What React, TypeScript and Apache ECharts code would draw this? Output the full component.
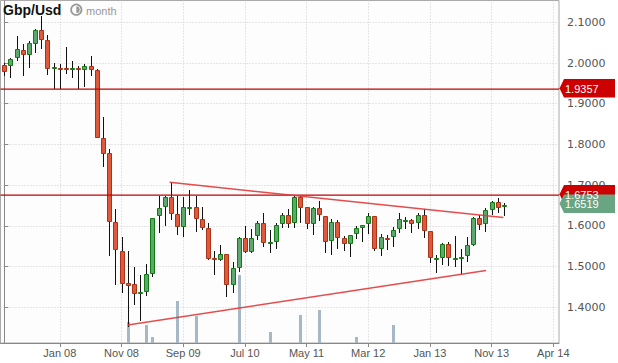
import React, { useEffect, useRef } from 'react';
import * as echarts from 'echarts';

// Monthly GBP/USD candles, May 2007 .. Feb 2014 (index 0 .. 81)
const opens = [
  1.994, 1.994, 2.014, 2.031, 2.021, 2.050, 2.081, 2.056, 1.988, 1.989,
  1.987, 1.987, 1.989, 1.986, 1.993, 1.983, 1.816, 1.778, 1.609, 1.538,
  1.459, 1.457, 1.434, 1.439, 1.483, 1.626, 1.649, 1.670, 1.628, 1.600,
  1.644, 1.646, 1.616, 1.594, 1.522, 1.519, 1.530, 1.458, 1.499, 1.569,
  1.538, 1.577, 1.606, 1.558, 1.562, 1.606, 1.626, 1.609, 1.670, 1.646,
  1.608, 1.643, 1.624, 1.565, 1.609, 1.569, 1.557, 1.582, 1.596, 1.606,
  1.624, 1.545, 1.571, 1.575, 1.594, 1.612, 1.614, 1.609, 1.626, 1.587,
  1.519, 1.523, 1.555, 1.520, 1.521, 1.528, 1.555, 1.619, 1.608, 1.642,
  1.658, 1.648,
];
const highs = [
  2.001, 2.013, 2.066, 2.047, 2.055, 2.084, 2.116, 2.070, 1.999, 1.998,
  2.039, 2.004, 1.993, 1.998, 2.017, 1.985, 1.867, 1.788, 1.641, 1.572,
  1.538, 1.500, 1.479, 1.506, 1.620, 1.673, 1.673, 1.706, 1.673, 1.672,
  1.688, 1.673, 1.646, 1.608, 1.539, 1.552, 1.531, 1.512, 1.572, 1.600,
  1.593, 1.613, 1.632, 1.590, 1.608, 1.631, 1.641, 1.673, 1.673, 1.647,
  1.647, 1.660, 1.625, 1.618, 1.614, 1.575, 1.578, 1.600, 1.603, 1.632,
  1.625, 1.580, 1.578, 1.598, 1.632, 1.621, 1.616, 1.631, 1.641, 1.588,
  1.529, 1.559, 1.560, 1.575, 1.544, 1.572, 1.621, 1.627, 1.645, 1.660,
  1.668, 1.656,
];
const lows = [
  1.968, 1.963, 2.006, 1.967, 1.988, 2.025, 2.035, 1.971, 1.935, 1.935,
  1.973, 1.962, 1.935, 1.942, 1.967, 1.817, 1.745, 1.526, 1.455, 1.436,
  1.352, 1.406, 1.367, 1.428, 1.475, 1.582, 1.600, 1.614, 1.578, 1.572,
  1.627, 1.584, 1.590, 1.516, 1.479, 1.514, 1.424, 1.436, 1.487, 1.533,
  1.533, 1.565, 1.549, 1.534, 1.542, 1.595, 1.595, 1.595, 1.608, 1.593,
  1.578, 1.613, 1.534, 1.529, 1.544, 1.538, 1.524, 1.567, 1.560, 1.580,
  1.537, 1.527, 1.541, 1.549, 1.583, 1.593, 1.583, 1.592, 1.569, 1.508,
  1.485, 1.503, 1.501, 1.500, 1.482, 1.511, 1.551, 1.590, 1.586, 1.627,
  1.631, 1.624,
];
const closes = [
  1.980, 2.009, 2.034, 2.021, 2.048, 2.081, 2.060, 1.989, 1.990, 1.987,
  1.986, 1.989, 1.987, 1.993, 1.985, 1.818, 1.780, 1.611, 1.542, 1.460,
  1.455, 1.434, 1.437, 1.481, 1.619, 1.645, 1.670, 1.631, 1.600, 1.646,
  1.646, 1.619, 1.598, 1.522, 1.519, 1.530, 1.456, 1.496, 1.569, 1.538,
  1.571, 1.606, 1.561, 1.561, 1.601, 1.626, 1.608, 1.672, 1.647, 1.608,
  1.643, 1.629, 1.562, 1.609, 1.573, 1.557, 1.577, 1.594, 1.601, 1.624,
  1.545, 1.572, 1.568, 1.590, 1.616, 1.614, 1.606, 1.626, 1.590, 1.523,
  1.521, 1.555, 1.524, 1.522, 1.523, 1.552, 1.619, 1.605, 1.638, 1.658,
  1.647, 1.6519,
];
// [candle index, volume (relative units)]
const volumeBars = [
  [20, 21], [23, 18], [24, 6], [28, 42], [31, 27], [38, 68],
  [43, 11], [48, 28], [51, 33], [57, 6], [63, 18],
];
const xTickIdx = [9, 19, 29, 39, 49, 59, 69, 79, 89];
const xTickLabels = ['Jan 08', 'Nov 08', 'Sep 09', 'Jul 10', 'May 11', 'Mar 12', 'Jan 13', 'Nov 13', 'Apr 14'];
const yTicks = [1.4, 1.5, 1.6, 1.7, 1.8, 1.9, 2.0, 2.1];
const levelLines = [1.9357, 1.6753];
const lastPrice = 1.6519;
const upperTrend = [[26.8, 1.707], [80.9, 1.6205]];
const lowerTrend = [[20, 1.3565], [78.1, 1.4903]];

const X_MIN = -0.616;
const X_MAX = 89.924;
const Y_MIN = 1.3122;
const Y_MAX = 2.1536;
const VOL_MAX = 342.5;

const UP_FILL = '#5da86c';
const UP_BORDER = '#127a12';
const DOWN_FILL = '#e0593d';
const DOWN_BORDER = '#a83418';

export default function App() {
  const ref = useRef<HTMLDivElement>(null);
  useEffect(() => {
    if (!ref.current) return;
    document.body.style.margin = '0';
    const chart = echarts.init(ref.current, null, { renderer: 'svg' });
    const candleData = opens.map((o, i) => [i, o, closes[i], lows[i], highs[i]]);
    const baseGraphic: any[] = [
      {
        type: 'text', x: 3, y: 10, z: 100,
        style: { text: 'Gbp/Usd', font: 'bold 14px "Liberation Sans", Arial', fill: '#111', verticalAlign: 'middle' },
      },
      { type: 'circle', z: 100, shape: { cx: 76.3, cy: 9.7, r: 5.2 }, style: { fill: '#fff', stroke: '#9a9a9a', lineWidth: 1.8 } },
      { type: 'sector', z: 100, shape: { cx: 76.3, cy: 9.7, r0: 0, r: 3.4, startAngle: -Math.PI / 2, endAngle: Math.PI / 2 }, style: { fill: '#9a9a9a' } },
      {
        type: 'text', x: 86, y: 11, z: 100,
        style: { text: 'month', font: '11px "Liberation Sans", Arial', fill: '#999', verticalAlign: 'middle' },
      },
    ];
    const option: any = {
      animation: false,
      backgroundColor: '#fff',
      grid: { left: 0.5, top: 0.5, right: 59, bottom: 20, show: true, borderColor: '#aaa', borderWidth: 1, backgroundColor: '#fdfdfd' },
      xAxis: {
        type: 'value', min: X_MIN, max: X_MAX,
        axisLine: { show: true, onZero: false, lineStyle: { color: '#888' } },
        axisTick: { show: true, customValues: xTickIdx, length: 4, lineStyle: { color: '#888' } },
        axisLabel: {
          customValues: xTickIdx, margin: 4, color: '#555', fontSize: 11, fontFamily: '"Liberation Sans", Arial',
          formatter: (v: number) => { const k = xTickIdx.indexOf(Math.round(v)); return k >= 0 ? xTickLabels[k] : ''; },
        },
        splitLine: { show: true, lineStyle: { color: '#cccccc', type: [1, 2] } },
      },
      yAxis: [
        {
          type: 'value', position: 'right', min: Y_MIN, max: Y_MAX,
          axisLine: { show: true, lineStyle: { color: '#888' } },
          axisTick: { show: true, customValues: yTicks, length: 4, lineStyle: { color: '#888' } },
          axisLabel: {
            customValues: yTicks, margin: 8, color: '#555', fontSize: 11, fontFamily: '"DejaVu Sans", Verdana',
            formatter: (v: number) => v.toFixed(4),
          },
          splitLine: { show: true, lineStyle: { color: '#cccccc', type: [1, 2] } },
        },
        { type: 'value', min: 0, max: VOL_MAX, show: false },
      ],
      series: [
        {
          type: 'custom', yAxisIndex: 1, z: 1, data: volumeBars,
          renderItem: (_p: any, api: any) => {
            const i = api.value(0), v = api.value(1);
            const p = api.coord([i, v]);
            const p0 = api.coord([i, 0]);
            const cx = Math.round(p[0]);
            return { type: 'rect', shape: { x: cx - 1, y: p[1], width: 3, height: p0[1] - p[1] }, style: { fill: '#a6b7c5' } };
          },
        },
        {
          type: 'custom', z: 2, data: candleData,
          renderItem: (_p: any, api: any) => {
            const i = api.value(0), o = api.value(1), c = api.value(2), l = api.value(3), h = api.value(4);
            const pO = api.coord([i, o]), pC = api.coord([i, c]), pL = api.coord([i, l]), pH = api.coord([i, h]);
            const cx = Math.round(pO[0]);
            const up = c >= o;
            const yTop = Math.round(Math.min(pO[1], pC[1]));
            let yBot = Math.round(Math.max(pO[1], pC[1]));
            if (yBot - yTop < 1) yBot = yTop + 1;
            return {
              type: 'group',
              children: [
                { type: 'line', shape: { x1: cx + 0.5, y1: Math.round(pH[1]), x2: cx + 0.5, y2: Math.round(pL[1]) }, style: { stroke: '#111', lineWidth: 1 } },
                {
                  type: 'rect', shape: { x: cx - 1.5, y: yTop + 0.5, width: 4, height: yBot - yTop },
                  style: { fill: up ? UP_FILL : DOWN_FILL, stroke: up ? UP_BORDER : DOWN_BORDER, lineWidth: 1 },
                },
              ],
            };
          },
        },
        ...levelLines.map((lv) => ({
          type: 'line', z: 3, silent: true, symbol: 'none',
          data: [[X_MIN, lv], [X_MAX, lv]],
          lineStyle: { color: '#c00000', width: 1.2 },
        })),
        ...[upperTrend, lowerTrend].map((tr) => ({
          type: 'line', z: 3, silent: true, symbol: 'none',
          data: tr,
          lineStyle: { color: '#e23a3a', width: 1.5, opacity: 0.9 },
        })),
      ],
      graphic: { elements: baseGraphic },
    };
    chart.setOption(option);

    const gx = chart.convertToPixel({ xAxisIndex: 0 }, X_MAX) as number;
    const tag = (v: number, color: string) => {
      const y = (chart.convertToPixel({ yAxisIndex: 0 }, v) as number) - 1;
      return [
        {
          type: 'polygon', z: 200,
          shape: { points: [[gx + 0.5, y], [gx + 5, y - 9.3], [615, y - 9.3], [615, y + 9.3], [gx + 5, y + 9.3]] },
          style: { fill: color },
        },
        {
          type: 'text', z: 201, x: gx + 6, y: y + 0.5,
          style: { text: v.toFixed(4), font: '11px "Liberation Sans", Arial', fill: '#fff', verticalAlign: 'middle' },
        },
      ];
    };
    const tags = [
      ...tag(levelLines[0], '#cc0000'),
      ...tag(levelLines[1], '#cc0000'),
      ...tag(lastPrice, '#6aa583'),
    ];
    chart.setOption({ graphic: { elements: [...baseGraphic, ...tags] } });

    return () => chart.dispose();
  }, []);
  return <div ref={ref} style={{ width: 618, height: 363, position: 'absolute', left: 0, top: 0 }} />;
}
